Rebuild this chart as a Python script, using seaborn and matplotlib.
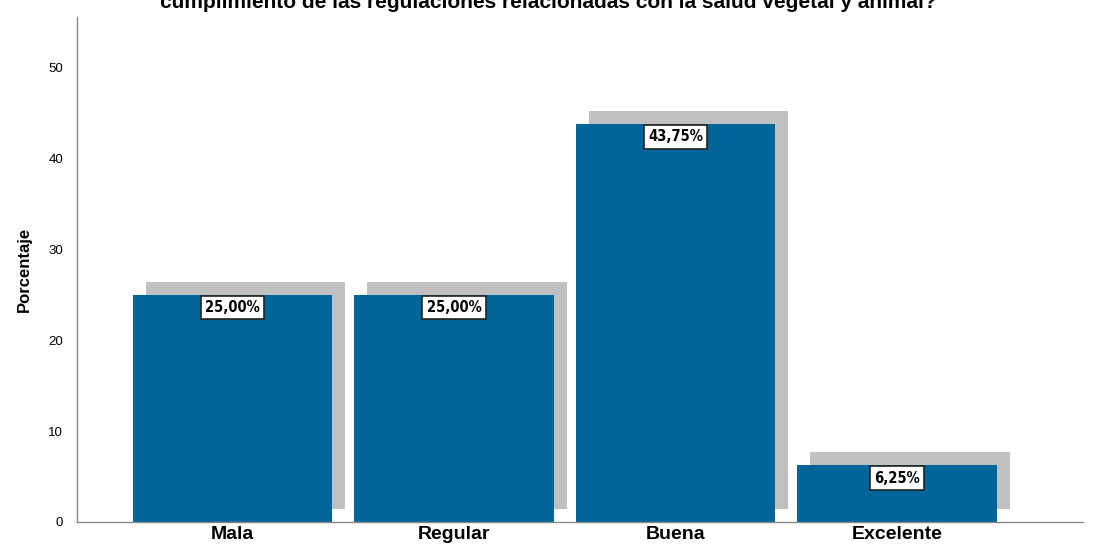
import seaborn as sns
import matplotlib.pyplot as plt
import matplotlib.transforms as mtransforms
import pandas as pd

categorias = ["Mala", "Regular", "Buena", "Excelente"]
porcentajes = [25.00, 25.00, 43.75, 6.25]
etiquetas = ["25,00%", "25,00%", "43,75%", "6,25%"]
titulo = "cumplimiento de las regulaciones relacionadas con la salud vegetal y animal?"

df = pd.DataFrame({"cat": categorias, "pct": porcentajes})

sns.set_theme(style="white")
plt.rcParams['font.family'] = ['Liberation Sans', 'DejaVu Sans']
plt.rcParams['text.color'] = 'black'
plt.rcParams['xtick.color'] = 'black'
plt.rcParams['ytick.color'] = 'black'
plt.rcParams['axes.labelcolor'] = 'black'

fig = plt.figure(figsize=(10.96, 5.51), dpi=100)
ax = fig.add_axes([77/1096, 29/551, 1006/1096, 505/551])

# sombra gris (mismas barras desplazadas)
sns.barplot(data=df, x="cat", y="pct", color="#c0c0c0", saturation=1,
            width=0.9, ax=ax, zorder=1)
n_sombra = len(ax.patches)
desp = mtransforms.ScaledTranslation(0.13, 0.13, fig.dpi_scale_trans)
for p in ax.patches[:n_sombra]:
    p.set_transform(ax.transData + desp)
    p.set_linewidth(0)

sns.barplot(data=df, x="cat", y="pct", color="#00669a", saturation=1,
            width=0.9, ax=ax, zorder=2)
for p in ax.patches[n_sombra:]:
    p.set_linewidth(0)

for i, (v, t) in enumerate(zip(porcentajes, etiquetas)):
    ax.text(i, v - 1.43, t, ha="center", va="center", fontsize=10.5, fontweight="bold",
            family="DejaVu Sans", fontstretch="condensed", zorder=3,
            bbox=dict(boxstyle="square,pad=0.3", fc="white", ec="#222222", lw=1.2))

ax.set_xlim(-0.702, 3.84)
ax.set_ylim(0, 55.5)
ax.set_yticks([0, 10, 20, 30, 40, 50])
ax.tick_params(axis="y", length=0, labelsize=9.5, pad=10)
ax.tick_params(axis="x", length=0, labelsize=14, pad=3)
for lbl in ax.get_xticklabels():
    lbl.set_fontweight("bold")
ax.set_xlabel("")
ax.set_ylabel("Porcentaje", fontsize=12, fontweight="bold", labelpad=12)
for s in ["top", "right"]:
    ax.spines[s].set_visible(False)
for s in ["left", "bottom"]:
    ax.spines[s].set_color("#888888")
    ax.spines[s].set_linewidth(1)

fig.text(0.5, 1 - 8/551, titulo, ha="center", va="baseline", fontsize=15, fontweight="bold")

plt.savefig("out.png", dpi=100)
